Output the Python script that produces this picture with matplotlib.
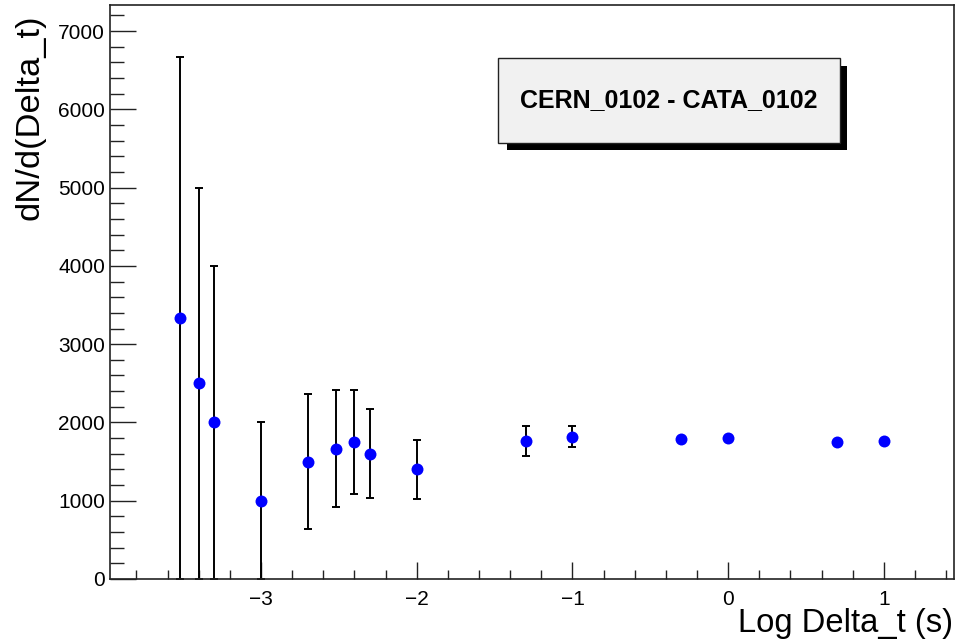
import numpy as np
import matplotlib
matplotlib.use('Agg')
import matplotlib.pyplot as plt
import matplotlib.patches as mpatches
from matplotlib.ticker import MultipleLocator

plt.rcParams['font.family'] = ['Liberation Sans', 'DejaVu Sans']

# log10 of the time difference bins and the rate per unit time
log_dt = [-3.52, -3.40, -3.30, -3.00, -2.70, -2.52, -2.40, -2.30, -2.00,
          -1.30, -1.00, -0.30, 0.00, 0.70, 1.00]
rate = [3333, 2500, 2000, 1000, 1500, 1667, 1750, 1600, 1400,
        1760, 1820, 1790, 1805, 1755, 1768]
rate_err = [3333, 2500, 2000, 1000, 866, 745, 661, 566, 374,
            194, 136, 45, 30, 15, 10]

pair_label = 'CERN_0102 - CATA_0102'
x_title = 'Log Delta_t (s)'
y_title = 'dN/d(Delta_t)'

W, H = 957, 643
fig = plt.figure(figsize=(W / 100, H / 100), dpi=100)
ax = fig.add_axes([110 / W, 1 - 579 / H, (954 - 110) / W, (579 - 5) / H])

x = np.array(log_dt)
y = np.array(rate)
ey = np.array(rate_err)

# like ROOT, skip error bars that would sit inside the marker
marker_r = 77.0
show = ey > marker_r
ax.errorbar(x[show], y[show], yerr=ey[show], fmt='none', ecolor='black',
            elinewidth=1.4, capsize=3.2, capthick=1.4, zorder=2)
ax.plot(x, y, 'o', color='#0000ff', markersize=8.6, markeredgewidth=0, zorder=3)

ax.set_xlim(-3.97, 1.45)
ax.set_ylim(0, 7333)

ax.xaxis.set_major_locator(MultipleLocator(1))
ax.xaxis.set_minor_locator(MultipleLocator(0.2))
ax.yaxis.set_major_locator(MultipleLocator(1000))
ax.yaxis.set_minor_locator(MultipleLocator(200))

ax.tick_params(axis='both', which='both', direction='in', width=1.0,
               color='#222222', top=False, right=False, labelsize=15)
ax.tick_params(axis='x', which='major', length=12.2, pad=8)
ax.tick_params(axis='x', which='minor', length=6.8)
ax.tick_params(axis='y', which='major', length=18.7, pad=3.6)
ax.tick_params(axis='y', which='minor', length=10)

for sp in ax.spines.values():
    sp.set_color('#222222')
    sp.set_linewidth(1.2)

fig.text(953 / W, 1 - 632 / H, x_title, ha='right', va='baseline', fontsize=23.6)
fig.text(30 / W, 1 - 15 / H, y_title, ha='center', va='top', rotation=90,
         fontsize=24.8)

# label box with drop shadow
shadow = mpatches.Rectangle((507 / W, 1 - 150 / H), (847 - 507) / W, (150 - 66) / H,
                            transform=fig.transFigure, facecolor='black',
                            edgecolor='none', zorder=4)
box = mpatches.Rectangle((498 / W, 1 - 143 / H), (840 - 498) / W, (143 - 58) / H,
                         transform=fig.transFigure, facecolor='#f1f1f1',
                         edgecolor='#222222', linewidth=1.0, zorder=5)
fig.patches.extend([shadow, box])
fig.text(669 / W, 1 - 100 / H, pair_label, ha='center', va='center',
         fontsize=18, fontweight='bold', zorder=6)

fig.savefig('out.png', dpi=100)
